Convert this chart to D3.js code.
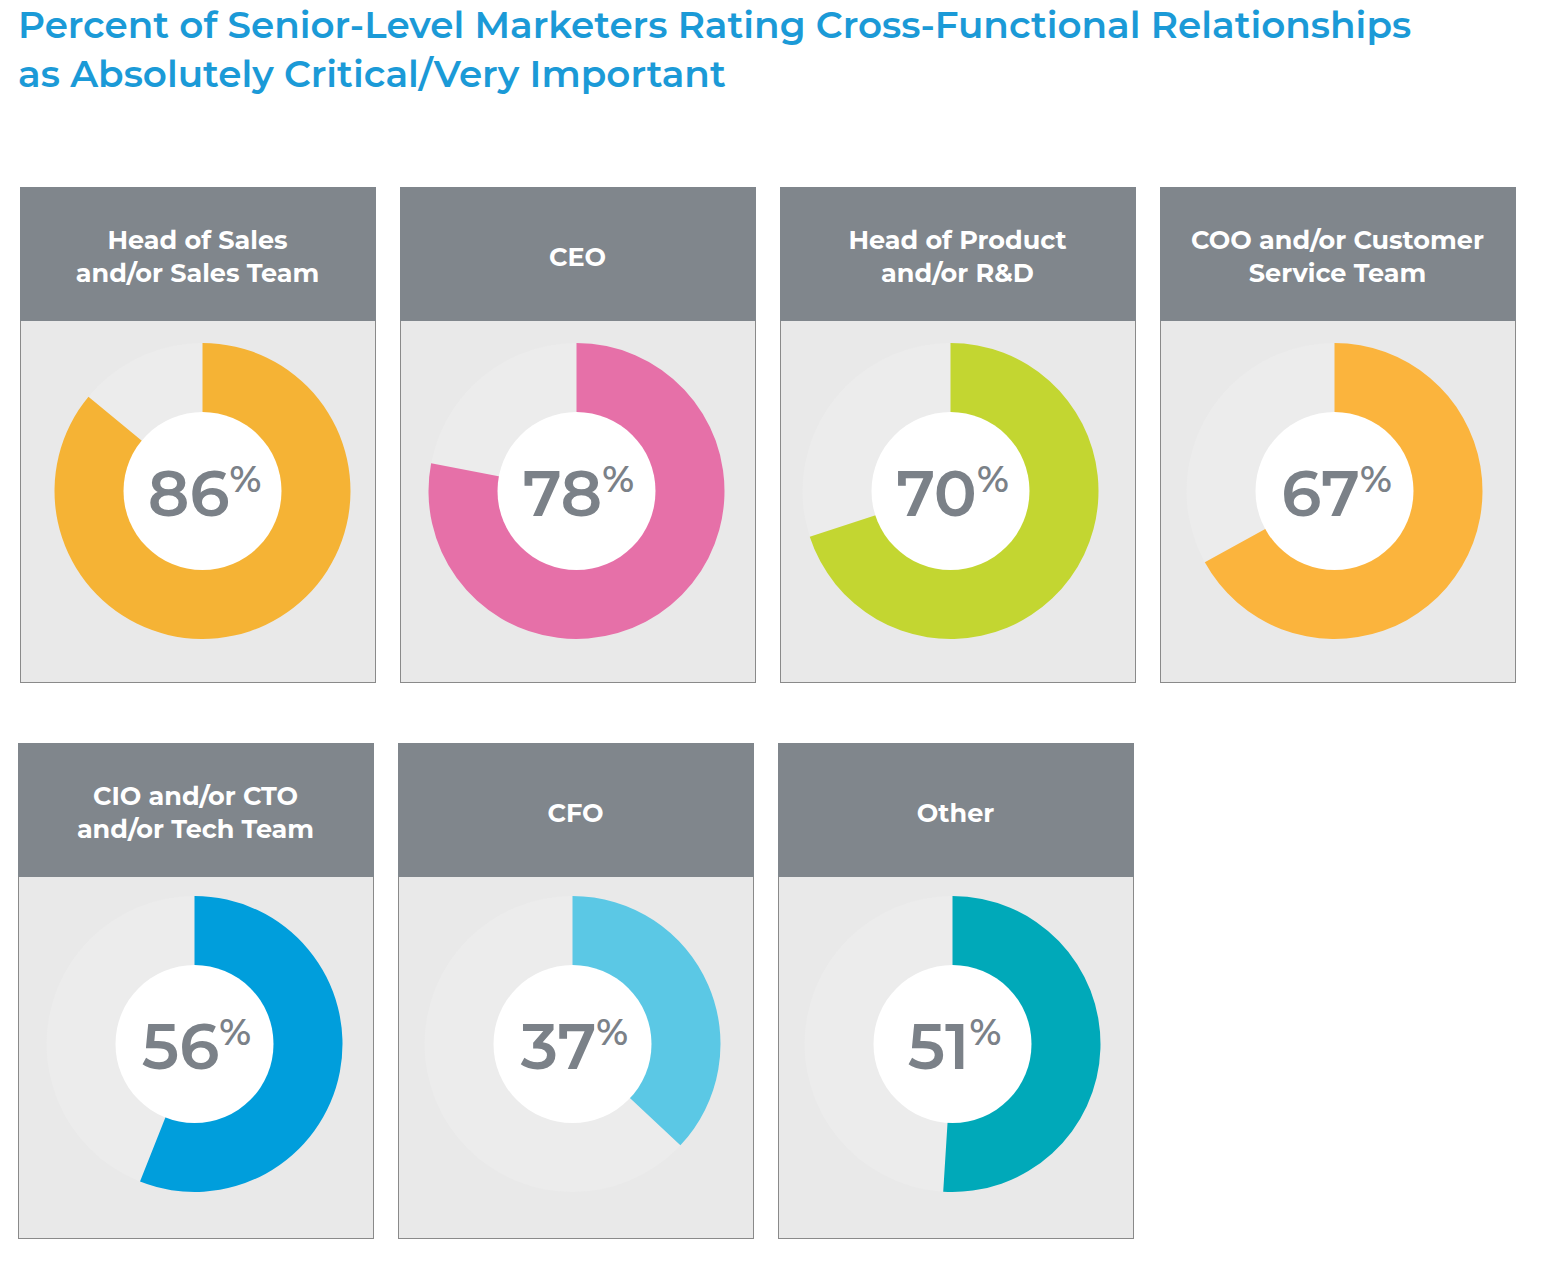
<!DOCTYPE html>
<html lang="en">
<head>
    <meta charset="UTF-8">
    <title>Cross-Functional Relationships</title>
    <script src="https://d3js.org/d3.v7.min.js"></script>
    <style>
        body { margin: 0; background: white; }
        text { font-family: "Montserrat", "Open Sans", sans-serif; }
    </style>
</head>
<body>
<div id="chart"></div>
<script>
    // data
    var titleLines = ["Percent of Senior-Level Marketers Rating Cross-Functional Relationships",
        "as Absolutely Critical/Very Important"];
    var labels = [
        ["Head of Sales", "and/or Sales Team"],
        ["CEO"],
        ["Head of Product", "and/or R&D"],
        ["COO and/or Customer", "Service Team"],
        ["CIO and/or CTO", "and/or Tech Team"],
        ["CFO"],
        ["Other"]
    ];
    var values = [86, 78, 70, 67, 56, 37, 51];
    var colors = ["#f5b335", "#e670a8", "#c3d631", "#fbb43d", "#009edc", "#5bc8e5", "#00a9b9"];

    var width = 1542, height = 1270;
    var cardW = 355, cardH = 495, headH = 134;
    var rOuter = 148, rInner = 79;
    // donuts are not quite centred in their cards
    var donutShift = [5, -1, -7, -3, -1, -3, -3];

    var svg = d3.select("#chart").append("svg")
        .attr("width", width).attr("height", height);

    svg.selectAll(".title").data(titleLines).enter()
        .append("text").attr("class", "title")
        .attr("x", 18)
        .attr("y", function (d, i) { return 38 + i * 49; })
        .text(function (d) { return d; })
        .style("font-size", "37.3px")
        .style("font-weight", 600)
        .style("fill", "#1b9ad7");

    // card positions: 4 per row
    function cardX(i) { return (i < 4 ? 20 : 18) + (i % 4) * 380; }
    function cardY(i) { return i < 4 ? 187 : 743; }

    var angle = d3.scaleLinear().domain([0, 100]).range([0, 2 * Math.PI]);
    var arc = d3.arc().innerRadius(rInner - 1).outerRadius(rOuter);

    var data = values.map(function (v, i) {
        return {value: v, label: labels[i], color: colors[i]};
    });

    var cards = svg.selectAll(".card").data(data).enter()
        .append("g").attr("class", "card")
        .attr("transform", function (d, i) {
            return "translate(" + cardX(i) + "," + cardY(i) + ")";
        });

    cards.append("rect")
        .attr("x", 0.5).attr("y", 0.5)
        .attr("width", cardW).attr("height", cardH)
        .style("fill", "#e9e9e9")
        .style("stroke", "#8a8a8a")
        .style("stroke-width", 1);

    cards.append("rect")
        .attr("x", 0).attr("y", 0)
        .attr("width", cardW + 1).attr("height", headH)
        .style("fill", "#80868c");

    cards.each(function (d) {
        var g = d3.select(this);
        var n = d.label.length;
        g.selectAll(".head").data(d.label).enter()
            .append("text").attr("class", "head")
            .attr("x", cardW / 2)
            .attr("y", function (t, j) { return (n == 1 ? 79 : 62) + j * 33; })
            .attr("text-anchor", "middle")
            .text(function (t) { return t; })
            .style("font-size", "25.5px")
            .style("font-weight", 700)
            .style("fill", "white");
    });

    var donut = cards.append("g")
        .attr("transform", function (d, i) {
            return "translate(" + (cardW / 2 + donutShift[i]) + "," + (i < 4 ? 304 : 301) + ")";
        });

    donut.append("circle").attr("r", rOuter).style("fill", "#ececec");

    donut.append("path")
        .attr("d", function (d) {
            return arc({startAngle: 0, endAngle: angle(d.value)});
        })
        .style("fill", function (d) { return d.color; });

    donut.append("circle").attr("r", rInner).style("fill", "white");

    var num = donut.append("text")
        .attr("x", 2).attr("y", 25)
        .attr("text-anchor", "middle")
        .style("fill", "#7b8188")
        .style("font-weight", 600);

    num.append("tspan").text(function (d) { return d.value; })
        .style("font-size", "64px");
    num.append("tspan").text("%")
        .attr("dy", -24)
        .style("font-size", "37px");
</script>
</body>
</html>
